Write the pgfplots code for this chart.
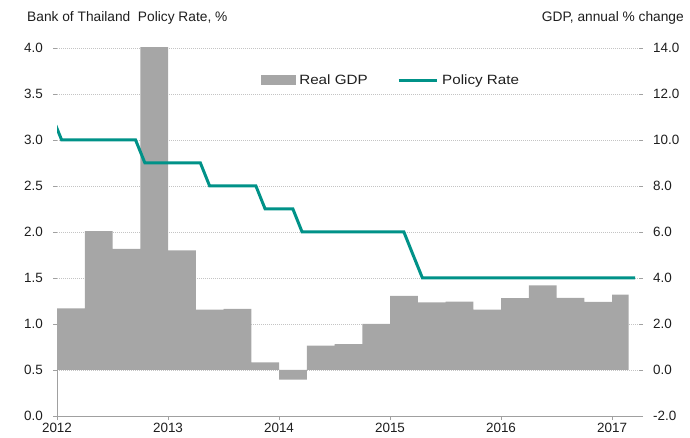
\documentclass[border=0pt]{standalone}
\usepackage{fontspec}
\setmainfont{Liberation Sans}
\newfontfamily\legfont{Liberation Sans}[FakeStretch=1.13]
\usepackage{pgfplots}
\pgfplotsset{compat=1.18}
\definecolor{gdpgrey}{RGB}{166,166,166}
\definecolor{polteal}{RGB}{0,146,136}
\definecolor{gridgrey}{RGB}{196,196,196}
\definecolor{axisgrey}{RGB}{160,160,160}
\definecolor{txt}{RGB}{30,30,30}

\pgfplotstableread{
x gdp
2012.00 2.68
2012.25 6.04
2012.50 5.27
2012.75 19.1
2013.00 5.20
2013.25 2.63
2013.50 2.66
2013.75 0.33
2014.00 -0.42
2014.25 1.06
2014.50 1.13
2014.75 2.00
2015.00 3.22
2015.25 2.94
2015.50 2.97
2015.75 2.62
2016.00 3.12
2016.25 3.68
2016.50 3.14
2016.75 2.96
2017.00 3.28
2017.15 3.28
}\gdptable

\pgfplotstableread{
x rate
2011.958 3.25
2012.042 3.00
2012.708 3.00
2012.792 2.75
2013.292 2.75
2013.375 2.50
2013.792 2.50
2013.875 2.25
2014.125 2.25
2014.208 2.00
2015.125 2.00
2015.208 1.75
2015.292 1.50
2017.208 1.50
}\ratetable

\pgfplotsset{
  common/.style={
    scale only axis, width=582bp, height=368bp,
    at={(57bp,22bp)}, anchor=south west,
    xmin=2012, xmax=2017.243,
    font=\fontsize{13.5}{16}\selectfont,
    tick label style={font=\fontsize{13.5}{16}\selectfont, text=txt},
    /pgf/number format/assume math mode=true,
    tick align=outside,
    major tick length=4bp,
    tick style={axisgrey, line width=0.7bp},
  }
}

\begin{document}
\begin{tikzpicture}
\useasboundingbox (0bp,0bp) rectangle (690bp,438bp);

% GDP axis (right)
\begin{axis}[common,
  axis y line*=right, axis x line=none,
  y axis line style={draw=none},
  ymin=-2, ymax=14, ytick={-2,0,...,14},
  yticklabel={\pgfmathprintnumber[fixed, fixed zerofill, precision=1]{\tick}},
  yticklabel style={inner sep=0pt, anchor=west, xshift=10bp},
  ymajorgrids, grid style={gridgrey, line width=0.6bp, dash pattern=on 1bp off 1bp},
]
\addplot[ybar interval, fill=gdpgrey, draw=none] table[x=x, y=gdp] {\gdptable};
\draw[axisgrey, line width=0.7bp] (axis cs:2012,0) -- (axis cs:2012,-2);
\end{axis}

% Policy rate axis (left)
\begin{axis}[common,
  axis y line*=left, axis x line*=bottom,
  y axis line style={draw=none},
  x axis line style={axisgrey, line width=0.8bp},
  ymin=0, ymax=4, ytick={0,0.5,...,4},
  yticklabel={\pgfmathprintnumber[fixed, fixed zerofill, precision=1]{\tick}},
  yticklabel style={inner sep=0pt, anchor=east, xshift=-10bp},
  xtick={2012,2013,2014,2015,2016,2017},
  xticklabel={\pgfmathprintnumber[1000 sep={}, fixed, precision=0]{\tick}},
  xticklabel style={inner sep=0pt, anchor=north, yshift=-3bp},
  legend style={draw=none, fill=none, at={(0.35,0.913)}, anchor=west,
    inner sep=0pt, font=\legfont\fontsize{13.5}{16}\selectfont,
    nodes={inner sep=2.5bp, text=txt},
    /tikz/every odd column/.append style={column sep=1.5bp},
    /tikz/every even column/.append style={column sep=27bp}},
  legend columns=2,
]
\addlegendimage{legend image code/.code={\fill[gdpgrey] (0bp,-4.5bp) rectangle (34bp,4.5bp);}}
\addlegendentry{Real GDP}
\addplot[polteal, line width=3bp, legend image code/.code={\draw[polteal, line width=3bp] (0bp,0bp) -- (38bp,0bp);}]
  table[x=x, y=rate] {\ratetable};
\addlegendentry{Policy Rate}
\end{axis}

\node[anchor=west, text=txt, font=\fontsize{13.8}{16}\selectfont, inner sep=0pt] at (27bp,420bp) {Bank of Thailand\ \ Policy Rate, \%};
\node[anchor=east, text=txt, font=\fontsize{13.8}{16}\selectfont, inner sep=0pt] at (684bp,420bp) {GDP, annual \% change};
\end{tikzpicture}
\end{document}
